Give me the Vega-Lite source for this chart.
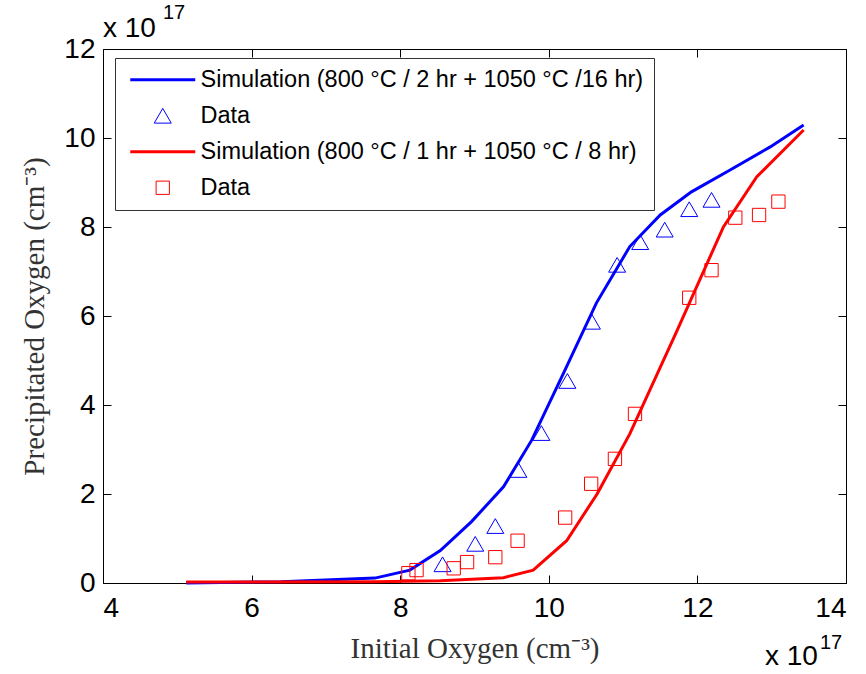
{
  "$schema": "https://vega.github.io/schema/vega-lite/v6.json",
  "width": 743,
  "height": 534,
  "autosize": {"type": "none"},
  "padding": {"left": 103, "top": 49, "right": 20, "bottom": 91},
  "background": "white",
  "config": {
    "view": {"stroke": "black", "strokeWidth": 1},
    "axis": {
      "labelFont": "Liberation Sans",
      "labelFontSize": 28,
      "labelColor": "black",
      "tickColor": "black",
      "tickSize": -8,
      "domain": false,
      "grid": false,
      "titleFont": "Liberation Serif",
      "titleFontSize": 29,
      "titleFontWeight": "normal",
      "titleColor": "#333333"
    }
  },
  "data": {
    "values": [
      {"s": "sim1", "x": 5.12, "y": 0.0},
      {"s": "sim1", "x": 6.4, "y": 0.03},
      {"s": "sim1", "x": 7.66, "y": 0.11},
      {"s": "sim1", "x": 8.13, "y": 0.29},
      {"s": "sim1", "x": 8.54, "y": 0.73},
      {"s": "sim1", "x": 8.96, "y": 1.38},
      {"s": "sim1", "x": 9.39, "y": 2.16},
      {"s": "sim1", "x": 9.77, "y": 3.21},
      {"s": "sim1", "x": 10.2, "y": 4.72},
      {"s": "sim1", "x": 10.64, "y": 6.29},
      {"s": "sim1", "x": 11.09, "y": 7.56},
      {"s": "sim1", "x": 11.5, "y": 8.27},
      {"s": "sim1", "x": 11.92, "y": 8.79},
      {"s": "sim1", "x": 12.44, "y": 9.28},
      {"s": "sim1", "x": 12.98, "y": 9.8},
      {"s": "sim1", "x": 13.43, "y": 10.29},
      {"s": "sim2", "x": 5.12, "y": 0.02},
      {"s": "sim2", "x": 7.66, "y": 0.03},
      {"s": "sim2", "x": 8.54, "y": 0.05},
      {"s": "sim2", "x": 9.39, "y": 0.12},
      {"s": "sim2", "x": 9.79, "y": 0.29},
      {"s": "sim2", "x": 10.24, "y": 0.95},
      {"s": "sim2", "x": 10.65, "y": 2.0},
      {"s": "sim2", "x": 11.09, "y": 3.35},
      {"s": "sim2", "x": 11.72, "y": 5.65},
      {"s": "sim2", "x": 12.35, "y": 8.0},
      {"s": "sim2", "x": 12.8, "y": 9.13},
      {"s": "sim2", "x": 13.43, "y": 10.18},
      {"s": "data1", "x": 8.57, "y": 0.42},
      {"s": "data1", "x": 9.01, "y": 0.88},
      {"s": "data1", "x": 9.28, "y": 1.28},
      {"s": "data1", "x": 9.59, "y": 2.54},
      {"s": "data1", "x": 9.9, "y": 3.37},
      {"s": "data1", "x": 10.25, "y": 4.54},
      {"s": "data1", "x": 10.58, "y": 5.87},
      {"s": "data1", "x": 10.92, "y": 7.15},
      {"s": "data1", "x": 11.23, "y": 7.66},
      {"s": "data1", "x": 11.56, "y": 7.94},
      {"s": "data1", "x": 11.89, "y": 8.4},
      {"s": "data1", "x": 12.19, "y": 8.61},
      {"s": "data2", "x": 8.11, "y": 0.22},
      {"s": "data2", "x": 8.22, "y": 0.29},
      {"s": "data2", "x": 8.72, "y": 0.33},
      {"s": "data2", "x": 8.9, "y": 0.47},
      {"s": "data2", "x": 9.28, "y": 0.58},
      {"s": "data2", "x": 9.58, "y": 0.95},
      {"s": "data2", "x": 10.22, "y": 1.47},
      {"s": "data2", "x": 10.57, "y": 2.23},
      {"s": "data2", "x": 10.89, "y": 2.79},
      {"s": "data2", "x": 11.16, "y": 3.8},
      {"s": "data2", "x": 11.89, "y": 6.41},
      {"s": "data2", "x": 12.19, "y": 7.03},
      {"s": "data2", "x": 12.51, "y": 8.21},
      {"s": "data2", "x": 12.83, "y": 8.27},
      {"s": "data2", "x": 13.09, "y": 8.57}
    ]
  },
  "layer": [
    {
      "transform": [{"filter": "datum.s == 'sim1' || datum.s == 'sim2'"}],
      "mark": {"type": "line", "strokeWidth": 3},
      "encoding": {
        "x": {
          "field": "x", "type": "quantitative",
          "scale": {"domain": [4, 14], "nice": false, "zero": false},
          "axis": {
            "orient": "bottom", "values": [4, 6, 8, 10, 12, 14],
            "labelPadding": 19,
            "title": "Initial Oxygen (cm⁻³)",
            "titleBaseline": "alphabetic", "titleY": 74
          }
        },
        "y": {
          "field": "y", "type": "quantitative",
          "scale": {"domain": [0, 12], "nice": false},
          "axis": {
            "orient": "left", "values": [0, 2, 4, 6, 8, 10, 12],
            "labelPadding": 16,
            "title": "Precipitated Oxygen (cm⁻³)",
            "titleBaseline": "alphabetic", "titleX": -60, "titleY": 267
          }
        },
        "color": {
          "field": "s", "type": "nominal",
          "scale": {"domain": ["sim1", "data1", "sim2", "data2"], "range": ["#0000ff", "#0000ff", "#ff0000", "#ff0000"]},
          "legend": {
            "title": null,
            "orient": "none",
            "legendX": 12,
            "legendY": 9,
            "fillColor": "white",
            "strokeColor": "#333333",
            "padding": 10,
            "labelFont": "Liberation Sans",
            "labelFontSize": 23.5,
            "labelColor": "black",
            "labelLimit": 0,
            "rowPadding": 11,
            "symbolOffset": 26,
            "labelOffset": 26,
            "labelExpr": "datum.value == 'sim1' ? 'Simulation (800 °C / 2 hr + 1050 °C /16 hr)' : datum.value == 'sim2' ? 'Simulation (800 °C / 1 hr + 1050 °C / 8 hr)' : 'Data'",
            "encode": {
              "symbols": {
                "update": {
                  "fill": {"value": "transparent"},
                  "strokeWidth": {"signal": "datum.value == 'sim1' || datum.value == 'sim2' ? 3 : 1"}
                }
              }
            }
          }
        }
      }
    },
    {
      "transform": [{"filter": "datum.s == 'data1' || datum.s == 'data2'"}],
      "mark": {"type": "point", "filled": false, "strokeWidth": 1, "opacity": 1},
      "encoding": {
        "x": {
          "field": "x", "type": "quantitative",
          "scale": {"domain": [4, 14], "nice": false, "zero": false},
          "axis": {"orient": "top", "values": [4, 6, 8, 10, 12, 14], "labels": false, "title": null}
        },
        "y": {
          "field": "y", "type": "quantitative",
          "scale": {"domain": [0, 12], "nice": false},
          "axis": {"orient": "right", "values": [0, 2, 4, 6, 8, 10, 12], "labels": false, "title": null}
        },
        "color": {"field": "s", "type": "nominal"},
        "shape": {
          "field": "s", "type": "nominal",
          "scale": {"domain": ["sim1", "data1", "sim2", "data2"], "range": ["M-5,0L5,0", "triangle-up", "M-5,0L5,0", "square"]}
        },
        "size": {
          "field": "s", "type": "nominal",
          "scale": {"type": "ordinal", "domain": ["sim1", "data1", "sim2", "data2"], "range": [169, 289, 169, 177]}
        }
      }
    },
    {
      "data": {"values": [{}]},
      "mark": {"type": "text", "text": "x 10", "align": "left", "baseline": "alphabetic", "dy": -12, "fontSize": 28, "font": "Liberation Sans", "color": "black"},
      "encoding": {"x": {"datum": 4, "type": "quantitative", "axis": null}, "y": {"datum": 12, "type": "quantitative", "axis": null}}
    },
    {
      "data": {"values": [{}]},
      "mark": {"type": "text", "text": "17", "align": "left", "baseline": "alphabetic", "dx": 60, "dy": -30, "fontSize": 20, "font": "Liberation Sans", "color": "black"},
      "encoding": {"x": {"datum": 4, "type": "quantitative", "axis": null}, "y": {"datum": 12, "type": "quantitative", "axis": null}}
    },
    {
      "data": {"values": [{}]},
      "mark": {"type": "text", "text": "x 10", "align": "left", "baseline": "alphabetic", "dx": -81, "dy": 82, "fontSize": 28, "font": "Liberation Sans", "color": "black"},
      "encoding": {"x": {"datum": 14, "type": "quantitative", "axis": null}, "y": {"datum": 0, "type": "quantitative", "axis": null}}
    },
    {
      "data": {"values": [{}]},
      "mark": {"type": "text", "text": "17", "align": "left", "baseline": "alphabetic", "dx": -26, "dy": 66, "fontSize": 20, "font": "Liberation Sans", "color": "black"},
      "encoding": {"x": {"datum": 14, "type": "quantitative", "axis": null}, "y": {"datum": 0, "type": "quantitative", "axis": null}}
    }
  ],
  "resolve": {"axis": {"x": "independent", "y": "independent"}}
}
